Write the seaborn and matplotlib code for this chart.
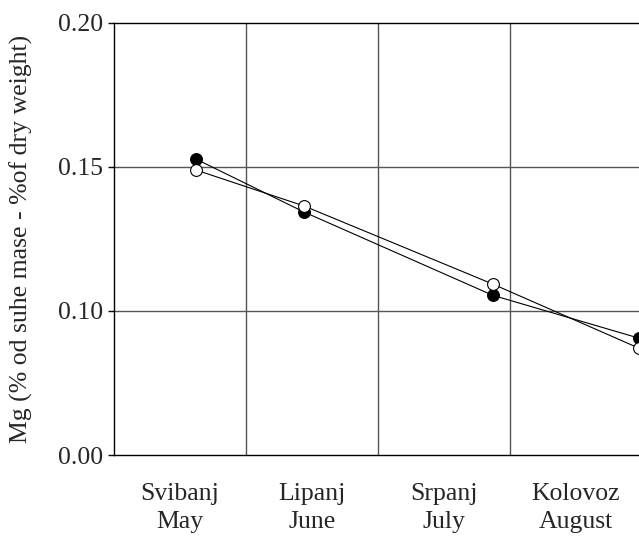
import matplotlib
matplotlib.use("Agg")
import matplotlib.pyplot as plt
import seaborn as sns
import pandas as pd

# Data
months = ["Svibanj\nMay", "Lipanj\nJune", "Srpanj\nJuly", "Kolovoz\nAugust"]
sample_pos = [0.62, 1.44, 2.87, 3.98]          # sampling positions along the month axis
series_filled = [0.1527, 0.1343, 0.1054, 0.0905]
series_open = [0.1489, 0.1364, 0.1093, 0.0870]
ytick_vals = [0.05, 0.10, 0.15, 0.20]
ytick_labels = ["0.00", "0.10", "0.15", "0.20"]

sns.set_theme(style="white")
plt.rcParams["font.family"] = ["Liberation Serif", "DejaVu Serif"]

df = pd.DataFrame({
    "x": sample_pos * 2,
    "y": series_filled + series_open,
    "series": ["filled"] * 4 + ["open"] * 4,
})

fig = plt.figure(figsize=(6.39, 5.36), dpi=100)
W, H = 639, 536
ax = fig.add_axes([114 / W, (H - 455) / H, 528 / W, (455 - 22.7) / H])

ax.set_xlim(0, 4)
ax.set_ylim(0.05, 0.20)

# grid lines
for xv in [1, 2, 3]:
    ax.axvline(xv, color="#555555", lw=1.0, zorder=1)
for yv in [0.10, 0.15]:
    ax.axhline(yv, color="#555555", lw=1.0, zorder=1)

sns.lineplot(data=df[df.series == "filled"], x="x", y="y", ax=ax,
             color="black", lw=0.8, marker="o", markersize=8.5,
             markerfacecolor="black", markeredgecolor="black", markeredgewidth=0.8,
             zorder=3, legend=False)
sns.lineplot(data=df[df.series == "open"], x="x", y="y", ax=ax,
             color="black", lw=0.8, marker="o", markersize=8.5,
             markerfacecolor="white", markeredgecolor="black", markeredgewidth=0.8,
             zorder=4, legend=False)

FS = 18.5
ax.set_xticks([0.5, 1.5, 2.5, 3.5])
ax.set_xticklabels(months, fontsize=FS, linespacing=1.35)
ax.set_yticks(ytick_vals)
ax.set_yticklabels(ytick_labels, fontsize=FS)
ax.tick_params(axis="x", length=0, pad=20)
ax.tick_params(axis="y", length=4, width=1, color="black", direction="out", pad=4, left=True)

ax.set_xlabel("")
ax.set_ylabel("Mg (% od suhe mase - %of dry weight)", fontsize=FS, labelpad=18)

for side in ["left", "bottom", "top"]:
    ax.spines[side].set_visible(True)
    ax.spines[side].set_color("black")
    ax.spines[side].set_linewidth(1.0)
ax.spines["right"].set_visible(False)

fig.savefig("out.png", dpi=100)
